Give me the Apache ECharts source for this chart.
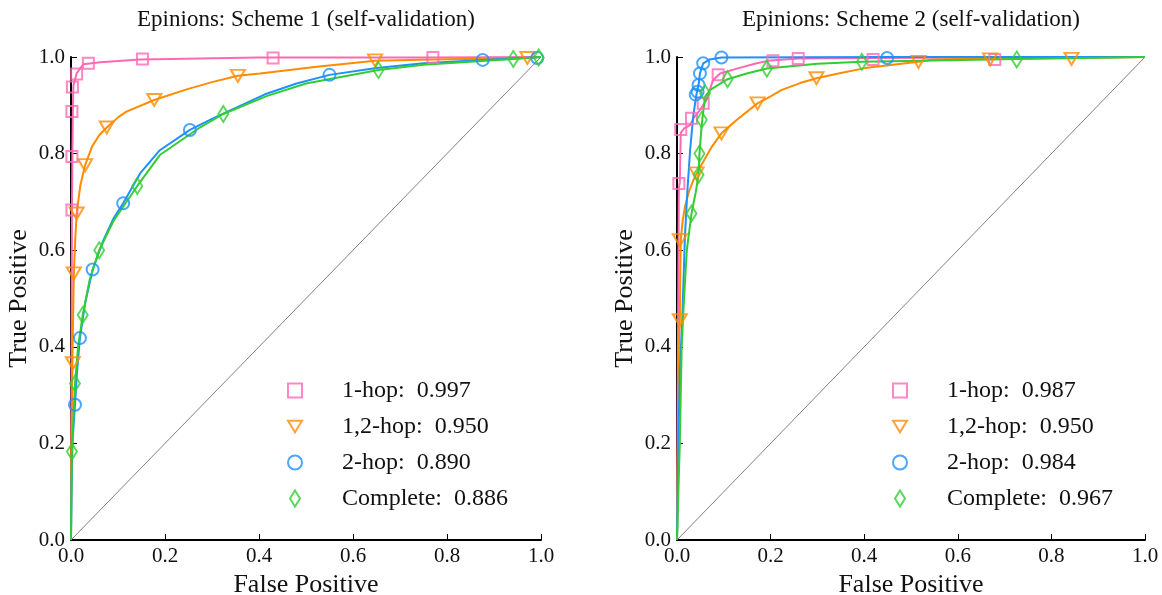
<!DOCTYPE html>
<html>
<head>
<meta charset="utf-8">
<script src="https://cdn.jsdelivr.net/npm/echarts@6/dist/echarts.min.js"></script>
<style>
  html, body { margin: 0; padding: 0; background: #fff; }
  #chart { width: 1162px; height: 595px; }
</style>
</head>
<body>
<div id="chart"></div>
<script>
// ROC curves for the Epinions dataset, two validation schemes.
const seriesLabels = ['1-hop', '1,2-hop', '2-hop', 'Complete'];
const aucScheme1 = [0.997, 0.950, 0.890, 0.886];
const aucScheme2 = [0.987, 0.950, 0.984, 0.967];
const panelTitles = ['Epinions: Scheme 1 (self-validation)', 'Epinions: Scheme 2 (self-validation)'];
const tickValues = [0, 0.2, 0.4, 0.6, 0.8, 1.0];
const chanceLine = [[0, 0], [1, 1]];

// Scheme 1 curves [false positive, true positive]
const s1HopCurve = [[0,0],[0.001,0.3],[0.002,0.68],[0.003,0.8],[0.004,0.89],[0.005,0.94],[0.012,0.966],[0.026,0.985],[0.062,0.989],[0.147,0.995],[0.4,0.999],[0.77,0.999],[1,1]];
const s1HopMarks = [[0.002,0.683],[0.002,0.794],[0.002,0.887],[0.003,0.938],[0.012,0.965],[0.037,0.987],[0.152,0.996],[0.43,0.998],[0.77,0.999]];
const s12HopCurve = [[0,0],[0.001,0.2],[0.003,0.37],[0.006,0.55],[0.009,0.62],[0.012,0.676],[0.02,0.735],[0.03,0.776],[0.045,0.815],[0.06,0.838],[0.076,0.854],[0.1,0.875],[0.118,0.887],[0.177,0.911],[0.246,0.933],[0.3,0.948],[0.355,0.961],[0.402,0.966],[0.523,0.98],[0.647,0.992],[0.77,0.995],[0.971,0.998],[1,1]];
const s12HopMarks = [[0.004,0.366],[0.006,0.552],[0.012,0.676],[0.030,0.776],[0.076,0.854],[0.177,0.911],[0.355,0.961],[0.647,0.993],[0.971,0.998]];
const s2HopCurve = [[0,0],[0.001,0.1],[0.003,0.2],[0.0085,0.28],[0.013,0.35],[0.019,0.418],[0.03,0.49],[0.046,0.56],[0.069,0.621],[0.09,0.665],[0.111,0.697],[0.147,0.759],[0.189,0.807],[0.253,0.849],[0.3,0.872],[0.416,0.924],[0.48,0.945],[0.55,0.963],[0.65,0.977],[0.75,0.987],[0.876,0.994],[1,1]];
const s2HopMarks = [[0.0085,0.28],[0.019,0.418],[0.046,0.56],[0.111,0.697],[0.253,0.849],[0.55,0.963],[0.876,0.994],[0.992,0.998]];
const sCompleteCurve = [[0,0],[0.001,0.1],[0.002,0.183],[0.0085,0.324],[0.015,0.4],[0.025,0.466],[0.04,0.54],[0.06,0.6],[0.09,0.66],[0.141,0.733],[0.189,0.797],[0.274,0.854],[0.324,0.882],[0.416,0.919],[0.5,0.945],[0.654,0.973],[0.75,0.984],[0.941,0.996],[1,1]];
const sCompleteMarks = [[0.002,0.183],[0.0085,0.324],[0.025,0.466],[0.06,0.6],[0.141,0.733],[0.324,0.882],[0.654,0.973],[0.941,0.996],[0.995,0.999]];

// Scheme 2 curves
const t1HopCurve = [[0,0],[0.002,0.4],[0.004,0.73],[0.006,0.74],[0.008,0.843],[0.015,0.852],[0.028,0.859],[0.035,0.873],[0.049,0.89],[0.063,0.911],[0.077,0.952],[0.092,0.966],[0.128,0.976],[0.17,0.987],[0.199,0.993],[0.26,0.997],[0.42,0.998],[0.68,0.999],[1,1]];
const t1HopMarks = [[0.004,0.738],[0.008,0.850],[0.031,0.873],[0.056,0.904],[0.088,0.963],[0.205,0.992],[0.259,0.997],[0.419,0.995],[0.679,0.995]];
const t12HopCurve = [[0,0],[0.002,0.2],[0.004,0.4],[0.006,0.455],[0.007,0.55],[0.008,0.621],[0.012,0.66],[0.017,0.69],[0.025,0.72],[0.035,0.745],[0.046,0.766],[0.06,0.79],[0.075,0.815],[0.095,0.842],[0.128,0.87],[0.172,0.904],[0.199,0.918],[0.224,0.932],[0.263,0.946],[0.298,0.956],[0.35,0.967],[0.402,0.977],[0.516,0.99],[0.547,0.995],[0.669,0.997],[0.843,0.998],[1,1]];
const t12HopMarks = [[0.006,0.455],[0.006,0.621],[0.042,0.759],[0.095,0.842],[0.172,0.904],[0.298,0.956],[0.516,0.990],[0.669,0.995],[0.843,0.996]];
const t2HopCurve = [[0,0],[0.002,0.15],[0.006,0.35],[0.011,0.45],[0.017,0.63],[0.022,0.72],[0.028,0.807],[0.035,0.88],[0.042,0.925],[0.046,0.942],[0.049,0.966],[0.056,0.987],[0.07,0.995],[0.095,0.999],[0.45,1],[1,1]];
const t2HopMarks = [[0.040,0.922],[0.044,0.928],[0.046,0.942],[0.049,0.966],[0.056,0.987],[0.095,0.999],[0.449,0.998]];
const tCompleteCurve = [[0,0],[0.003,0.1],[0.006,0.2],[0.008,0.3],[0.01,0.4],[0.015,0.5],[0.021,0.6],[0.031,0.676],[0.04,0.72],[0.046,0.756],[0.048,0.8],[0.053,0.862],[0.06,0.918],[0.071,0.932],[0.108,0.954],[0.149,0.966],[0.192,0.976],[0.3,0.986],[0.395,0.99],[0.55,0.993],[0.726,0.996],[1,1]];
const tCompleteMarks = [[0.031,0.676],[0.046,0.756],[0.048,0.80],[0.053,0.870],[0.060,0.925],[0.108,0.954],[0.192,0.976],[0.395,0.990],[0.726,0.995]];

const palette = ['#ff69b4', '#ff8c00', '#1e90ff', '#32cd32'];
const markerPaths = [
  'path://M0,0L10,0L10,10L0,10Z',
  'path://M0,0L12,0L6,10Z',
  'path://M6,0A6,6 0 1,1 6,12A6,6 0 1,1 6,0Z',
  'path://M5,0L10,8L5,16L0,8Z'
];
const markerSizes = [[11, 11], [14, 12], [12, 12], [10, 16]];
const FONT = 'Liberation Serif';

const panels = [
  { curves: [s1HopCurve, s12HopCurve, s2HopCurve, sCompleteCurve],
    marks: [s1HopMarks, s12HopMarks, s2HopMarks, sCompleteMarks], auc: aucScheme1 },
  { curves: [t1HopCurve, t12HopCurve, t2HopCurve, tCompleteCurve],
    marks: [t1HopMarks, t12HopMarks, t2HopMarks, tCompleteMarks], auc: aucScheme2 }
];

const grids = [
  { left: 71, right: 621, top: 57, bottom: 55, containLabel: false, outerBoundsMode: 'none' },
  { left: 677, right: 17, top: 57, bottom: 55, containLabel: false, outerBoundsMode: 'none' }
];
const centers = [306, 911];

function axisBase(name, gap, rotate) {
  return {
    type: 'value', min: 0, max: 1, interval: 0.2,
    name: name, nameLocation: 'middle', nameGap: gap, nameRotate: rotate,
    nameTextStyle: { fontFamily: FONT, fontSize: 26, color: '#111' },
    axisLine: { show: true, onZero: false, lineStyle: { color: '#000', width: 2 } },
    axisTick: { show: true, inside: true, length: 6, lineStyle: { color: '#000', width: 1 } },
    axisLabel: { fontFamily: FONT, fontSize: 21, color: '#111', margin: 6,
                 formatter: v => v.toFixed(1) },
    splitLine: { show: false }
  };
}

const xAxis = [], yAxis = [], series = [], legend = [], title = [];
panels.forEach((p, gi) => {
  xAxis.push(Object.assign(axisBase('False Positive', 29, 0), { gridIndex: gi }));
  yAxis.push(Object.assign(axisBase('True Positive', 39, 90), { gridIndex: gi }));
  title.push({
    text: panelTitles[gi], left: centers[gi] - 5, top: 3, textAlign: 'center',
    textStyle: { fontFamily: FONT, fontSize: 23, fontWeight: 'normal', color: '#111' }
  });
  series.push({
    type: 'line', xAxisIndex: gi, yAxisIndex: gi, data: chanceLine,
    showSymbol: false, silent: true, lineStyle: { color: '#808080', width: 1 }, z: 1
  });
  const legendData = [];
  p.curves.forEach((c, i) => {
    const label = seriesLabels[i] + ':  ' + p.auc[i].toFixed(3);
    series.push({
      type: 'line', xAxisIndex: gi, yAxisIndex: gi, data: c, showSymbol: false,
      lineStyle: { color: palette[i], width: 2 }, z: 2
    });
    series.push({
      type: 'scatter', name: label, xAxisIndex: gi, yAxisIndex: gi, data: p.marks[i],
      symbol: markerPaths[i], symbolSize: markerSizes[i], clip: false,
      itemStyle: { color: 'rgba(255,255,255,0)', borderColor: palette[i], borderWidth: 2 }, z: 2
    });
    legendData.push({
      name: label, icon: markerPaths[i],
      itemStyle: { color: 'rgba(255,255,255,0)', borderColor: palette[i], borderWidth: 2 }
    });
  });
  legend.push({
    orient: 'vertical', left: gi === 0 ? 282 : 887, top: 372,
    itemWidth: 14, itemHeight: 16, itemGap: 9, selectedMode: false,
    textStyle: { fontFamily: FONT, fontSize: 24, color: '#111', lineHeight: 27, padding: [0, 0, 0, 35] },
    data: legendData
  });
});

const chart = echarts.init(document.getElementById('chart'), null, { renderer: 'canvas' });
chart.setOption({
  animation: false,
  backgroundColor: '#fff',
  title: title,
  grid: grids,
  xAxis: xAxis,
  yAxis: yAxis,
  legend: legend,
  series: series
});
</script>
</body>
</html>
